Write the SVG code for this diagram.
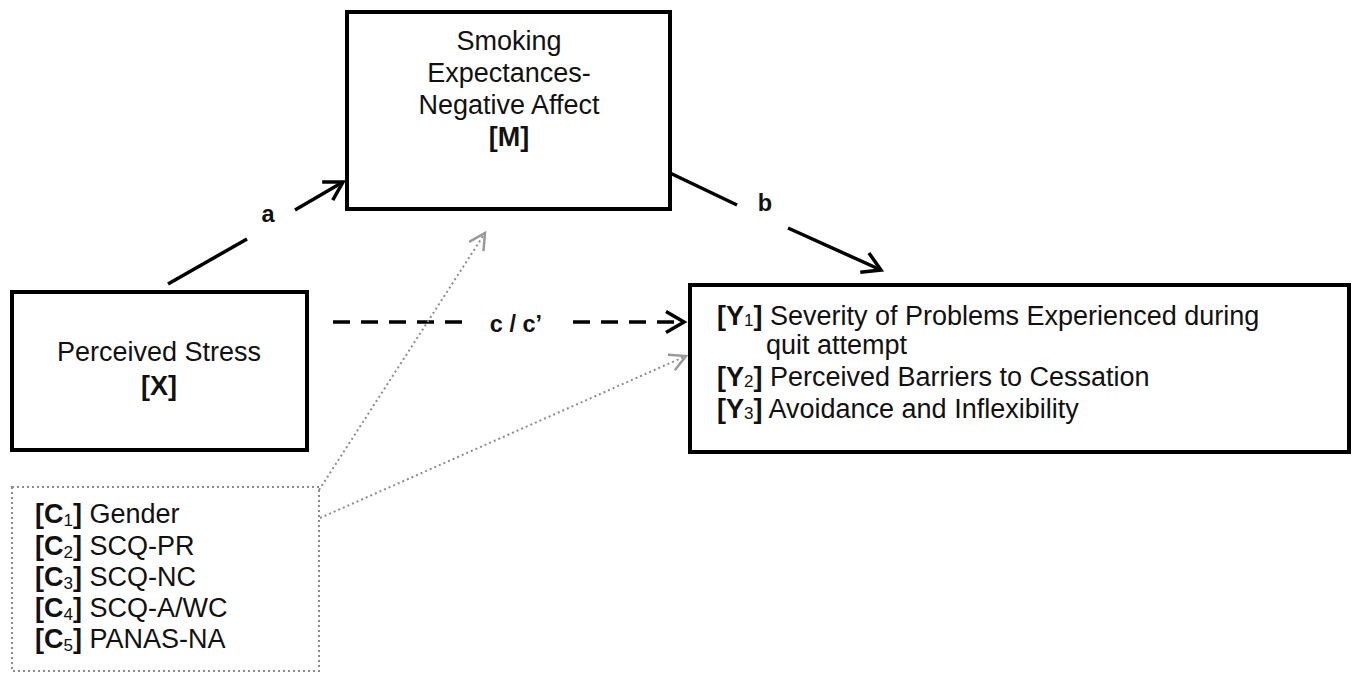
<svg xmlns="http://www.w3.org/2000/svg" width="1355" height="675" viewBox="0 0 1355 675">
<style>
text{font-family:"Liberation Sans",Arial,sans-serif;font-size:27px;fill:#111}
.b{font-weight:bold}
.sub{font-size:17px;font-weight:normal}
.lbl{font-size:23.5px;font-weight:bold}
.box{fill:#fff;stroke:#000;stroke-width:4}
.cbox{fill:none;stroke:#8c8c8c;stroke-width:2;stroke-dasharray:2 3}
.arr{fill:none;stroke:#000;stroke-width:3.5}
.dash{stroke-dasharray:17 11}
.dot{fill:none;stroke:#8c8c8c;stroke-width:2;stroke-dasharray:2 3}
</style>
<defs>
<marker id="ah" markerUnits="userSpaceOnUse" viewBox="-22 -13 26 26" refX="0" refY="0" markerWidth="26" markerHeight="26" orient="auto">
<path d="M-18,-10.5 L0,0 L-18,10.5" fill="none" stroke="#000" stroke-width="3.5"/>
</marker>
<marker id="ahg" markerUnits="userSpaceOnUse" viewBox="-22 -13 26 26" refX="0" refY="0" markerWidth="26" markerHeight="26" orient="auto">
<path d="M-16,-8.5 L0,0 L-16,8.5" fill="none" stroke="#999" stroke-width="2.5"/>
</marker>
</defs>
<g id="connectors">
<line class="arr" x1="168" y1="284" x2="247" y2="239"/>
<line class="arr" x1="295" y1="210" x2="343" y2="182" marker-end="url(#ah)"/>
<line class="arr" x1="670" y1="173" x2="737" y2="205"/>
<line class="arr" x1="788" y1="228" x2="881" y2="270" marker-end="url(#ah)"/>
<line class="arr dash" x1="333" y1="322" x2="465" y2="322"/>
<line class="arr dash" x1="573" y1="322" x2="684" y2="322" marker-end="url(#ah)"/>
<line class="dot" x1="319" y1="490" x2="485" y2="233" marker-end="url(#ahg)"/>
<line class="dot" x1="320" y1="518" x2="686" y2="356" marker-end="url(#ahg)"/>
<text class="lbl" x="268" y="222" text-anchor="middle">a</text>
<text class="lbl" x="765" y="211" text-anchor="middle">b</text>
<text class="lbl" x="516" y="332" text-anchor="middle">c / c’</text>
</g>
<g id="node-m">
<rect class="box" x="347" y="12" width="323" height="197"/>
<text x="509" y="50" text-anchor="middle">Smoking</text>
<text x="509" y="82" text-anchor="middle">Expectances-</text>
<text x="509" y="114" text-anchor="middle">Negative Affect</text>
<text class="b" x="509" y="146" text-anchor="middle">[M]</text>
</g>
<g id="node-x">
<rect class="box" x="12" y="292" width="295" height="158"/>
<text x="159" y="361" text-anchor="middle">Perceived Stress</text>
<text class="b" x="159" y="395" text-anchor="middle">[X]</text>
</g>
<g id="node-y">
<rect class="box" x="690" y="285" width="659" height="167"/>
<text x="717" y="325"><tspan class="b">[Y</tspan><tspan class="sub" dy="1">1</tspan><tspan class="b" dy="-1">]</tspan> Severity of Problems Experienced during</text>
<text x="766" y="354">quit attempt</text>
<text x="717" y="386"><tspan class="b">[Y</tspan><tspan class="sub" dy="1">2</tspan><tspan class="b" dy="-1">]</tspan> Perceived Barriers to Cessation</text>
<text x="717" y="418"><tspan class="b">[Y</tspan><tspan class="sub" dy="1">3</tspan><tspan class="b" dy="-1">]</tspan> Avoidance and Inflexibility</text>
</g>
<g id="node-c">
<rect class="cbox" x="12" y="487" width="307" height="184"/>
<text x="35" y="523"><tspan class="b">[C</tspan><tspan class="sub" dy="3">1</tspan><tspan class="b" dy="-3">]</tspan> Gender</text>
<text x="35" y="555"><tspan class="b">[C</tspan><tspan class="sub" dy="3">2</tspan><tspan class="b" dy="-3">]</tspan> SCQ-PR</text>
<text x="35" y="586"><tspan class="b">[C</tspan><tspan class="sub" dy="3">3</tspan><tspan class="b" dy="-3">]</tspan> SCQ-NC</text>
<text x="35" y="617"><tspan class="b">[C</tspan><tspan class="sub" dy="3">4</tspan><tspan class="b" dy="-3">]</tspan> SCQ-A/WC</text>
<text x="35" y="648"><tspan class="b">[C</tspan><tspan class="sub" dy="3">5</tspan><tspan class="b" dy="-3">]</tspan> PANAS-NA</text>
</g>
</svg>
